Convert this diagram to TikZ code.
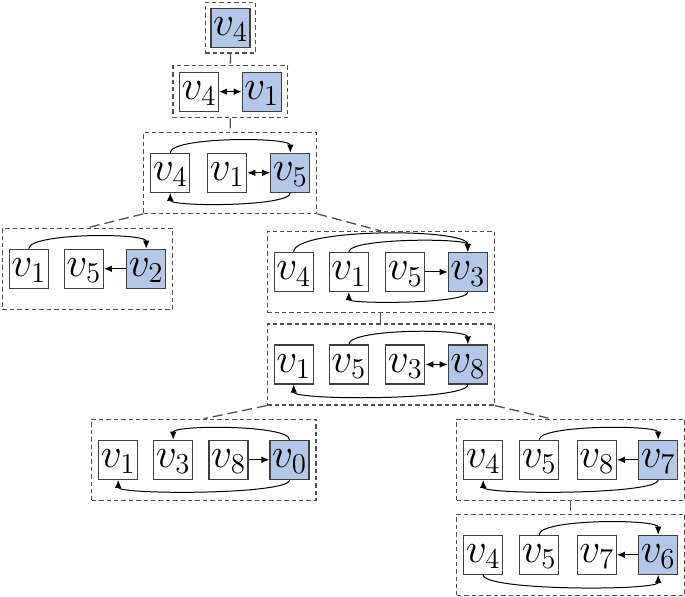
\documentclass[tikz,border=0pt]{standalone}
\usepackage{xcolor}
\usepackage{tikz}
\usetikzlibrary{arrows.meta,fit}
\definecolor{selblue}{HTML}{B4C7E7}
\definecolor{boxgray}{HTML}{404040}
\definecolor{grpgray}{HTML}{505050}
\newcommand{\nv}[1]{$v_{#1}$}

\begin{document}
\begin{tikzpicture}[x=0.5pt,y=-0.5pt,
      sq/.style={draw=boxgray,line width=0.6pt,minimum size=19.5pt,inner sep=0pt,
                 text height=9pt,text depth=1.2pt,font=\fontsize{21}{21}\selectfont},
      sel/.style={sq,fill=selblue},
      grp/.style={draw=grpgray,line width=0.6pt,dash pattern=on 2.2pt off 1.5pt,
                  inner xsep=3.2pt,inner ysep=10.2pt},
      link/.style={draw=grpgray,line width=0.65pt,dash pattern=on 5pt off 2.5pt},
      arr/.style={-{Latex[length=4pt,width=3.3pt]},line width=0.5pt},
      dbl/.style={{Latex[length=4pt,width=3.3pt]}-{Latex[length=4pt,width=3.3pt]},line width=0.5pt}]
    \useasboundingbox (0,0) rectangle (685,597);
    % level 1
    \node[sel] (a4) at (230.5,27.8) {\nv{4}};
    \node[grp,inner sep=2.6pt,fit=(a4)] (ga) {};
    % level 2
    \node[sq]  (b4) at (199,91.7) {\nv{4}};
    \node[sel] (b1) at (261.7,91.7) {\nv{1}};
    \node[grp,inner sep=3pt,fit=(b4)(b1)] (gb) {};
    \draw[dbl] (b4.east) -- (b1.west);
    % level 3
    \node[sq]  (c4) at (170.3,172.8) {\nv{4}};
    \node[sq]  (c1) at (227.2,172.8) {\nv{1}};
    \node[sel] (c5) at (290.3,172.8) {\nv{5}};
    \node[grp,fit=(c4)(c5)] (gc) {};
    \draw[dbl] (c1.east) -- (c5.west);
    \draw[arr] (c4.north) .. controls +(0,8pt) and +(0,8pt) .. (c5.north);
    \draw[arr] (c5.south) .. controls +(0,-7pt) and +(0,-7pt) .. (c4.south);
    % left branch
    \node[sq]  (d1) at (28.8,268.8) {\nv{1}};
    \node[sq]  (d5) at (83.8,268.8) {\nv{5}};
    \node[sel] (d2) at (146.2,268.8) {\nv{2}};
    \node[grp,fit=(d1)(d2)] (gd) {};
    \draw[arr] (d2.west) -- (d5.east);
    \draw[arr] (d1.north) .. controls +(0,8pt) and +(0,8pt) .. (d2.north);
    % right branch
    \node[sq]  (e4) at (293.7,272) {\nv{4}};
    \node[sq]  (e1) at (348.8,272) {\nv{1}};
    \node[sq]  (e5) at (405.3,272) {\nv{5}};
    \node[sel] (e3) at (467.8,272) {\nv{3}};
    \node[grp,fit=(e4)(e3)] (ge) {};
    \draw[arr] (e5.east) -- (e3.west);
    \draw[arr] (e4.north) .. controls +(0,12pt) and +(0,12pt) .. (e3.north);
    \draw[arr] (e1.north) .. controls +(0,7pt) and +(0,7pt) .. (e3.north);
    \draw[arr] (e3.south) .. controls +(0,-6pt) and +(0,-6pt) .. (e1.south);
    % next level
    \node[sq]  (f1) at (293.7,364.5) {\nv{1}};
    \node[sq]  (f5) at (348.8,364.5) {\nv{5}};
    \node[sq]  (f3) at (405.3,364.5) {\nv{3}};
    \node[sel] (f8) at (467.8,364.5) {\nv{8}};
    \node[grp,fit=(f1)(f8)] (gf) {};
    \draw[dbl] (f3.east) -- (f8.west);
    \draw[arr] (f5.north) .. controls +(0,8pt) and +(0,8pt) .. (f8.north);
    \draw[arr] (f8.south) .. controls +(0,-8pt) and +(0,-8pt) .. (f1.south);
    % bottom left
    \node[sq]  (g1) at (118.2,459.8) {\nv{1}};
    \node[sq]  (g3) at (173.2,459.8) {\nv{3}};
    \node[sq]  (g8) at (228.5,459.8) {\nv{8}};
    \node[sel] (g0) at (289.5,459.8) {\nv{0}};
    \node[grp,fit=(g1)(g0)] (gg) {};
    \draw[arr] (g8.east) -- (g0.west);
    \draw[arr] (g0.north) .. controls +(0,7.5pt) and +(0,7.5pt) .. (g3.north);
    \draw[arr] (g0.south) .. controls +(0,-7.5pt) and +(0,-7.5pt) .. (g1.south);
    % bottom right
    \node[sq]  (h4) at (483.2,459.8) {\nv{4}};
    \node[sq]  (h5) at (539.2,459.8) {\nv{5}};
    \node[sq]  (h8) at (596.8,459.8) {\nv{8}};
    \node[sel] (h7) at (658.2,459.8) {\nv{7}};
    \node[grp,fit=(h4)(h7)] (gh) {};
    \draw[arr] (h7.west) -- (h8.east);
    \draw[arr] (h5.north) .. controls +(0,7.5pt) and +(0,7.5pt) .. (h7.north);
    \draw[arr] (h7.south) .. controls +(0,-7.5pt) and +(0,-7.5pt) .. (h4.south);
    % last level
    \node[sq]  (i4) at (483.2,554.8) {\nv{4}};
    \node[sq]  (i5) at (539.2,554.8) {\nv{5}};
    \node[sq]  (i7) at (596.8,554.8) {\nv{7}};
    \node[sel] (i6) at (658.2,554.8) {\nv{6}};
    \node[grp,fit=(i4)(i6)] (gi) {};
    \draw[arr] (i6.west) -- (i7.east);
    \draw[arr] (i5.north) .. controls +(0,8pt) and +(0,8pt) .. (i6.north);
    \draw[arr] (i4.south) .. controls +(0,-8pt) and +(0,-8pt) .. (i6.south);
    % tree links
    \draw[link] (ga.south) -- (gb.north);
    \draw[link] (gb.south) -- (gc.north);
    \draw[link] (gc.south west) -- (gd.north);
    \draw[link] (gc.south east) -- (ge.north);
    \draw[link] (ge.south) -- (gf.north);
    \draw[link] (gf.south west) -- (gg.north);
    \draw[link] (gf.south east) -- ([xshift=-10pt]gh.north);
    \draw[link] (gh.south) -- (gi.north);
  \end{tikzpicture}
\end{document}
